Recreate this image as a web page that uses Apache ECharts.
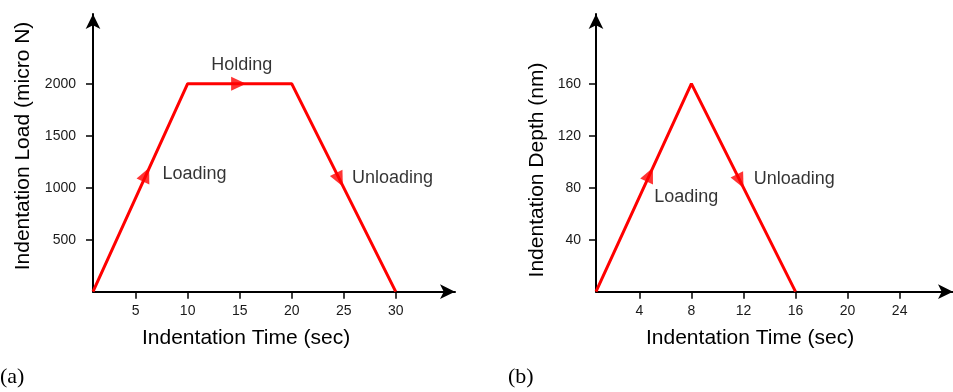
<!DOCTYPE html>
<html>
<head>
<meta charset="utf-8">
<script src="https://cdn.jsdelivr.net/npm/echarts@6/dist/echarts.min.js"></script>
<style>
html, body { margin: 0; padding: 0; background: #fff; }
#main { width: 953px; height: 392px; }
</style>
</head>
<body>
<div id="main"></div>
<script>
// (a) load vs time
var timeA = [0.9, 10, 20, 30];
var loadA = [0, 2000, 2000, 0];
var tickXA = [5, 10, 15, 20, 25, 30];
var tickYA = [500, 1000, 1500, 2000];
var arrowXA = [6.0, 14.9, 24.6];
var arrowYA = [1125, 2000, 1077];
var arrowSegA = [0, 1, 2];
var noteA = ['Holding', 'Loading', 'Unloading'];
var noteXA = [15.2, 10.65, 29.7];
var noteYA = [2176, 1128, 1089];

// (b) depth vs time
var timeB = [0.67, 8, 16];
var depthB = [0, 160, 0];
var tickXB = [4, 8, 12, 16, 20, 24];
var tickYB = [40, 80, 120, 160];
var arrowXB = [4.8, 11.75];
var arrowYB = [90, 85];
var arrowSegB = [0, 1];
var noteB = ['Loading', 'Unloading'];
var noteXB = [7.6, 15.9];
var noteYB = [73, 87];

var FONT = '"Liberation Sans", Arial, sans-serif';
var RED = '#ff0000';

function zip(xs, ys) {
    return xs.map(function (x, i) { return [x, ys[i]]; });
}

function axisOf(gridIndex, min, max, ticks, margin) {
    return {
        type: 'value',
        gridIndex: gridIndex,
        min: min,
        max: max,
        axisLine: {
            show: true,
            onZero: false,
            symbol: ['none', 'arrow'],
            symbolSize: [11, 15],
            lineStyle: { color: '#000', width: 2 }
        },
        axisTick: {
            show: true,
            inside: false,
            length: 7,
            customValues: ticks,
            lineStyle: { color: '#000', width: 1.5 }
        },
        axisLabel: {
            customValues: ticks,
            margin: margin,
            fontSize: 14,
            color: '#1a1a1a',
            fontFamily: FONT,
            formatter: function (v) { return String(v); }
        },
        splitLine: { show: false }
    };
}

function noteSeries(idx, names, xs, ys) {
    return {
        type: 'scatter',
        xAxisIndex: idx,
        yAxisIndex: idx,
        symbolSize: 0,
        silent: true,
        label: {
            show: true,
            position: 'inside',
            formatter: '{b}',
            fontSize: 18,
            color: '#000',
            fontFamily: FONT
        },
        data: names.map(function (n, i) { return { name: n, value: [xs[i], ys[i]] }; })
    };
}

function arrowSeries(idx, xs, ys) {
    return {
        type: 'scatter',
        xAxisIndex: idx,
        yAxisIndex: idx,
        symbol: 'triangle',
        symbolSize: [14, 15],
        silent: true,
        itemStyle: { color: RED },
        data: zip(xs, ys)
    };
}

let chart = echarts.init(document.getElementById('main'));

let option = {
    backgroundColor: '#fff',
    animation: false,
    grid: [
        { left: 93, top: 14, width: 362, height: 277.7 },
        { left: 596, top: 14, width: 357, height: 277.7 }
    ],
    xAxis: [
        axisOf(0, 0.9, 35.7, tickXA, 12),
        axisOf(1, 0.67, 28.1, tickXB, 12)
    ],
    yAxis: [
        axisOf(0, 0, 2670, tickYA, 17),
        axisOf(1, 0, 213.6, tickYB, 15)
    ],
    series: [
        {
            type: 'line',
            xAxisIndex: 0,
            yAxisIndex: 0,
            showSymbol: false,
            silent: true,
            clip: false,
            lineStyle: { color: RED, width: 3 },
            data: zip(timeA, loadA)
        },
        {
            type: 'line',
            xAxisIndex: 1,
            yAxisIndex: 1,
            showSymbol: false,
            silent: true,
            clip: false,
            lineStyle: { color: RED, width: 3 },
            data: zip(timeB, depthB)
        },
        arrowSeries(0, arrowXA, arrowYA),
        arrowSeries(1, arrowXB, arrowYB),
        noteSeries(0, noteA, noteXA, noteYA),
        noteSeries(1, noteB, noteXB, noteYB)
    ],
    graphic: [
        { type: 'text', left: 142, top: 328, style: { text: 'Indentation Time (sec)', font: '21px ' + FONT, fill: '#000' } },
        { type: 'text', left: 646, top: 328, style: { text: 'Indentation Time (sec)', font: '21px ' + FONT, fill: '#000' } },
        { type: 'text', x: 23, y: 146, rotation: Math.PI / 2, style: { text: 'Indentation Load (micro N)', font: '21px ' + FONT, fill: '#000', align: 'center', verticalAlign: 'middle' } },
        { type: 'text', x: 537, y: 170, rotation: Math.PI / 2, style: { text: 'Indentation Depth (nm)', font: '21px ' + FONT, fill: '#000', align: 'center', verticalAlign: 'middle' } },
        { type: 'text', left: 0, top: 366, style: { text: '(a)', font: '22px "Liberation Serif", serif', fill: '#000' } },
        { type: 'text', left: 508, top: 366, style: { text: '(b)', font: '22px "Liberation Serif", serif', fill: '#000' } }
    ]
};
chart.setOption(option);

// point the arrowheads along their line segment
function rotations(idx, tx, ty, xs, ys, segs) {
    return xs.map(function (x, i) {
        let s = segs[i];
        let p0 = chart.convertToPixel({ gridIndex: idx }, [tx[s], ty[s]]);
        let p1 = chart.convertToPixel({ gridIndex: idx }, [tx[s + 1], ty[s + 1]]);
        let ang = Math.atan2(-(p1[1] - p0[1]), p1[0] - p0[0]) * 180 / Math.PI;
        return { value: [x, ys[i]], symbolRotate: ang - 90 };
    });
}
option.series[2].data = rotations(0, timeA, loadA, arrowXA, arrowYA, arrowSegA);
option.series[3].data = rotations(1, timeB, depthB, arrowXB, arrowYB, arrowSegB);
chart.setOption(option);
</script>
</body>
</html>
